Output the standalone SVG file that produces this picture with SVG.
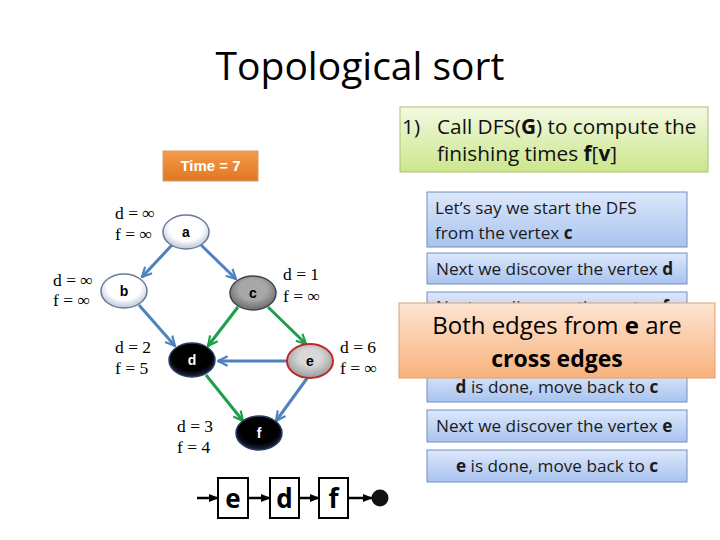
<svg xmlns="http://www.w3.org/2000/svg" width="720" height="540" viewBox="0 0 720 540">
<style>
.lbl{font-family:"Liberation Serif","Times New Roman",serif;font-size:17.5px;fill:#000}
.nl{font-family:"Liberation Sans",Arial,sans-serif;font-size:14px;font-weight:bold;text-anchor:middle}
.blue{stroke:#4f81bd;stroke-width:3;fill:none;marker-end:url(#ab)}
.green{stroke:#1e9e4a;stroke-width:3;fill:none;marker-end:url(#ag)}
.bx{fill:url(#gb);stroke:#6f8fc0;stroke-width:1}
.bt{font-family:"Open Sans","Liberation Sans",sans-serif;font-size:17.2px;fill:#1a1a1a}
.lt{font-family:"Open Sans","Liberation Sans",sans-serif;font-size:26px;font-weight:bold;text-anchor:middle}
.la{stroke:#000;stroke-width:2.5;fill:none;marker-end:url(#ak)}
</style>
<defs>
<marker id="ab" viewBox="0 0 10 10" refX="9" refY="5" markerWidth="4" markerHeight="4" orient="auto" markerUnits="strokeWidth"><path d="M1,1 L9,5 L1,9" fill="none" stroke="#4f81bd" stroke-width="1.8"/></marker>
<marker id="ag" viewBox="0 0 10 10" refX="9" refY="5" markerWidth="4" markerHeight="4" orient="auto" markerUnits="strokeWidth"><path d="M1,1 L9,5 L1,9" fill="none" stroke="#1e9e4a" stroke-width="1.8"/></marker>
<marker id="ak" viewBox="0 0 10 10" refX="9" refY="5" markerWidth="4" markerHeight="4" orient="auto" markerUnits="strokeWidth"><path d="M0,1 L10,5 L0,9 Z" fill="#000"/></marker>
<radialGradient id="gw" cx="50%" cy="40%" r="60%"><stop offset="0.6" stop-color="#ffffff"/><stop offset="1" stop-color="#b8c4d8"/></radialGradient>
<radialGradient id="gg" cx="50%" cy="40%" r="60%"><stop offset="0.5" stop-color="#a8a8a8"/><stop offset="1" stop-color="#6a6a6a"/></radialGradient>
<radialGradient id="ge" cx="50%" cy="40%" r="60%"><stop offset="0.4" stop-color="#d8d8d8"/><stop offset="1" stop-color="#9a9a9a"/></radialGradient>
<radialGradient id="gk" cx="50%" cy="40%" r="60%"><stop offset="0.7" stop-color="#000"/><stop offset="1" stop-color="#1c2a44"/></radialGradient>
<linearGradient id="gb" x1="0" y1="0" x2="0" y2="1"><stop offset="0" stop-color="#dde8fb"/><stop offset="1" stop-color="#a9c3ef"/></linearGradient>
<linearGradient id="go" x1="0" y1="0" x2="0" y2="1"><stop offset="0" stop-color="#fde4d2"/><stop offset="1" stop-color="#f8b27c"/></linearGradient>
<linearGradient id="gl" x1="0" y1="0" x2="0" y2="1"><stop offset="0" stop-color="#f3f9e2"/><stop offset="1" stop-color="#cbe68c"/></linearGradient>
<linearGradient id="gt" x1="0" y1="0" x2="0" y2="1"><stop offset="0" stop-color="#f59a4a"/><stop offset="1" stop-color="#e07722"/></linearGradient>
<clipPath id="hid"><rect x="427" y="292" width="260" height="11"/></clipPath>
</defs>

<text x="360" y="80" font-family="Open Sans,Liberation Sans,sans-serif" font-size="39" text-anchor="middle" fill="#000">Topological sort</text>

<g id="step1">
<rect x="400" y="107" width="308" height="65" fill="url(#gl)" stroke="#a9c46a" stroke-width="1"/>
<text font-family="Open Sans,Liberation Sans,sans-serif" font-size="20.8" fill="#111"><tspan x="402" y="134">1)</tspan><tspan x="437" y="134">Call DFS(<tspan font-weight="bold">G</tspan>) to compute the</tspan><tspan x="437" y="161">finishing times <tspan font-weight="bold">f</tspan>[<tspan font-weight="bold">v</tspan>]</tspan></text>
</g>

<g id="time">
<rect x="163" y="151" width="95" height="30" fill="url(#gt)" stroke="#d0a070" stroke-width="1"/>
<text x="210.5" y="171" font-family="Liberation Sans,Arial,sans-serif" font-size="15" font-weight="bold" fill="#fff" text-anchor="middle">Time = 7</text>
</g>

<g id="connectors">
<line class="blue" x1="172" y1="245" x2="142" y2="277"/>
<line class="blue" x1="201" y1="245" x2="236" y2="279"/>
<line class="blue" x1="139" y1="305" x2="175" y2="346"/>
<line class="green" x1="238" y1="307" x2="208" y2="346"/>
<line class="green" x1="268" y1="307" x2="306" y2="344"/>
<line class="blue" x1="287" y1="361" x2="218" y2="361"/>
<line class="blue" x1="308" y1="377" x2="276" y2="421"/>
<line class="green" x1="206" y1="375" x2="243" y2="421"/>
</g>

<g id="node-a">
<ellipse cx="186" cy="232" rx="23" ry="17" fill="url(#gw)" stroke="#6a7a96" stroke-width="1.5"/>
<text class="nl" x="186" y="237">a</text>
<text class="lbl"><tspan x="115" y="219">d = ∞</tspan><tspan x="115" y="240">f = ∞</tspan></text>
</g>
<g id="node-b">
<ellipse cx="124" cy="291" rx="23" ry="17" fill="url(#gw)" stroke="#6a7a96" stroke-width="1.5"/>
<text class="nl" x="124" y="296">b</text>
<text class="lbl"><tspan x="53" y="286">d = ∞</tspan><tspan x="53" y="306">f = ∞</tspan></text>
</g>
<g id="node-c">
<ellipse cx="253" cy="293" rx="23" ry="17" fill="url(#gg)" stroke="#3c4452" stroke-width="1.5"/>
<text class="nl" x="253" y="298">c</text>
<text class="lbl"><tspan x="283" y="280">d = 1</tspan><tspan x="283" y="302">f = ∞</tspan></text>
</g>
<g id="node-d">
<ellipse cx="192" cy="360" rx="23" ry="17" fill="url(#gk)" stroke="#2b3f66" stroke-width="1.5"/>
<text class="nl" x="192" y="365" fill="#fff">d</text>
<text class="lbl"><tspan x="115" y="353">d = 2</tspan><tspan x="115" y="374">f = 5</tspan></text>
</g>
<g id="node-e">
<ellipse cx="310" cy="361" rx="23" ry="17" fill="url(#ge)" stroke="#c0282a" stroke-width="2"/>
<text class="nl" x="310" y="366">e</text>
<text class="lbl"><tspan x="340" y="353">d = 6</tspan><tspan x="340" y="374">f = ∞</tspan></text>
</g>
<g id="node-f">
<ellipse cx="259" cy="433" rx="23" ry="17" fill="url(#gk)" stroke="#2b3f66" stroke-width="1.5"/>
<text class="nl" x="259" y="438" fill="#fff">f</text>
<text class="lbl"><tspan x="177" y="432">d = 3</tspan><tspan x="177" y="453">f = 4</tspan></text>
</g>

<g id="steps">
<rect class="bx" x="427" y="192" width="260" height="55"/>
<text class="bt"><tspan x="435" y="214">Let’s say we start the DFS</tspan><tspan x="435" y="239">from the vertex <tspan font-weight="bold">c</tspan></tspan></text>
<rect class="bx" x="427" y="253" width="260" height="31"/>
<text class="bt" x="436" y="275">Next we discover the vertex <tspan font-weight="bold">d</tspan></text>
<rect class="bx" x="427" y="292" width="260" height="31"/>
<text class="bt" x="436" y="313" clip-path="url(#hid)">Next we discover the vertex <tspan font-weight="bold">f</tspan></text>
<rect class="bx" x="427" y="371" width="260" height="31"/>
<text class="bt" x="557" y="393" text-anchor="middle"><tspan font-weight="bold">d</tspan> is done, move back to <tspan font-weight="bold">c</tspan></text>
<rect class="bx" x="427" y="410" width="260" height="32"/>
<text class="bt" x="436" y="432">Next we discover the vertex <tspan font-weight="bold">e</tspan></text>
<rect class="bx" x="427" y="450" width="260" height="32"/>
<text class="bt" x="557" y="472" text-anchor="middle"><tspan font-weight="bold">e</tspan> is done, move back to <tspan font-weight="bold">c</tspan></text>
</g>

<g id="callout">
<rect x="399" y="303" width="316" height="75" fill="url(#go)" stroke="#e0a070" stroke-width="1"/>
<text font-family="Open Sans,Liberation Sans,sans-serif" fill="#000" text-anchor="middle"><tspan x="557" y="334" font-size="24">Both edges from <tspan font-weight="bold">e</tspan> are</tspan><tspan x="557" y="367" font-size="23" font-weight="bold">cross edges</tspan></text>
</g>

<g id="list">
<line class="la" x1="197" y1="498" x2="218" y2="498"/>
<rect x="218" y="478" width="30" height="40" fill="#fff" stroke="#000" stroke-width="2"/>
<text class="lt" x="233" y="508">e</text>
<line class="la" x1="248" y1="498" x2="270" y2="498"/>
<rect x="270" y="478" width="29" height="40" fill="#fff" stroke="#000" stroke-width="2"/>
<text class="lt" x="284.5" y="508">d</text>
<line class="la" x1="299" y1="498" x2="319" y2="498"/>
<rect x="319" y="478" width="29" height="40" fill="#fff" stroke="#000" stroke-width="2"/>
<text class="lt" x="333.5" y="508">f</text>
<line class="la" x1="348" y1="498" x2="372" y2="498"/>
<circle cx="380" cy="498" r="8.5" fill="#111"/>
</g>
</svg>
